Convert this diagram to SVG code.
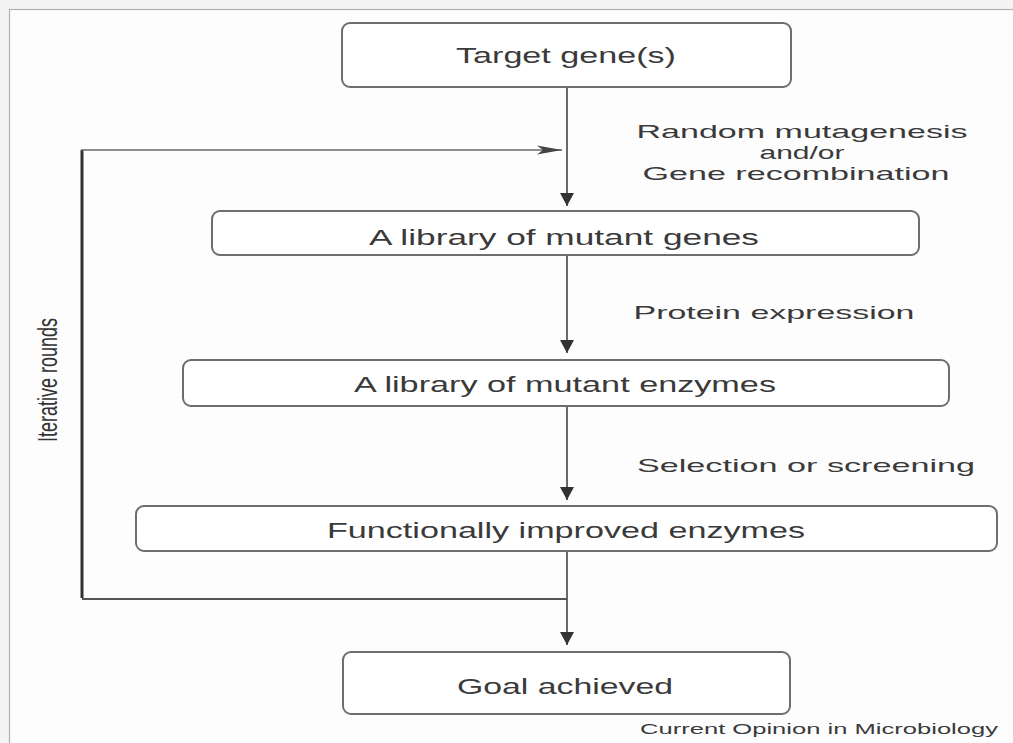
<svg xmlns="http://www.w3.org/2000/svg" width="1013" height="743" viewBox="0 0 1013 743">
  <defs>
    <style>
      .box { fill: #ffffff; stroke: #6e6e6e; stroke-width: 2; }
      .t { font-family: "Liberation Sans", Arial, sans-serif; font-size: 22px; fill: #3a3a3a; text-anchor: middle; }
      .lbl { font-family: "Liberation Sans", Arial, sans-serif; font-size: 19px; fill: #3a3a3a; text-anchor: middle; }
      .flow { stroke: #444; stroke-width: 1.6; fill: none; }
    </style>
    <marker id="ah" markerUnits="userSpaceOnUse" markerWidth="16" markerHeight="16" viewBox="0 -8 14 16" refX="13" refY="0" orient="auto">
      <path d="M0,-7 L13,0 L0,7 z" fill="#333"/>
    </marker>
    <marker id="ah2" markerUnits="userSpaceOnUse" markerWidth="28" markerHeight="12" viewBox="0 -6 26 12" refX="25" refY="0" orient="auto">
      <path d="M0,-4.5 L25,0 L0,4.5 L6,0 z" fill="#444"/>
    </marker>
  </defs>

  <rect x="0" y="0" width="1013" height="743" fill="#f4f4f4"/>
  <rect x="9.5" y="9.5" width="1010" height="740" fill="#fdfdfd" stroke="#b0b0b0" stroke-width="1.2"/>

  <g id="connectors">
    <line class="flow" x1="567" y1="88" x2="567" y2="206" marker-end="url(#ah)"/>
    <line class="flow" x1="567" y1="256" x2="567" y2="353" marker-end="url(#ah)"/>
    <line class="flow" x1="567" y1="407" x2="567" y2="500" marker-end="url(#ah)"/>
    <line class="flow" x1="567" y1="552" x2="567" y2="645" marker-end="url(#ah)"/>
    <path d="M82,599 L567,599" stroke="#555" stroke-width="2" fill="none"/>
    <path d="M82,598 L82,150" stroke="#333" stroke-width="3" fill="none"/>
    <line x1="81" y1="150" x2="562" y2="150" stroke="#666" stroke-width="1.5" marker-end="url(#ah2)"/>
  </g>

  <g id="n-target">
    <rect class="box" x="342" y="23" width="449" height="64" rx="8" ry="8"/>
    <text class="t" x="566" y="63" textLength="220" lengthAdjust="spacingAndGlyphs">Target gene(s)</text>
  </g>
  <g id="n-genes">
    <rect class="box" x="212" y="211" width="707" height="44" rx="8" ry="8"/>
    <text class="t" x="564" y="245" textLength="390" lengthAdjust="spacingAndGlyphs">A library of mutant genes</text>
  </g>
  <g id="n-enzymes">
    <rect class="box" x="183" y="360" width="766" height="46" rx="8" ry="8"/>
    <text class="t" x="565" y="392" textLength="422" lengthAdjust="spacingAndGlyphs">A library of mutant enzymes</text>
  </g>
  <g id="n-improved">
    <rect class="box" x="136" y="506" width="861" height="45" rx="8" ry="8"/>
    <text class="t" x="566" y="538" textLength="478" lengthAdjust="spacingAndGlyphs">Functionally improved enzymes</text>
  </g>
  <g id="n-goal">
    <rect class="box" x="343" y="652" width="447" height="62" rx="8" ry="8"/>
    <text class="t" x="565" y="694" textLength="216" lengthAdjust="spacingAndGlyphs">Goal achieved</text>
  </g>

  <g id="labels">
    <text class="lbl" x="802" y="138" textLength="331" lengthAdjust="spacingAndGlyphs">Random mutagenesis</text>
    <text class="lbl" x="802" y="159" textLength="85" lengthAdjust="spacingAndGlyphs">and/or</text>
    <text class="lbl" x="796" y="180" textLength="307" lengthAdjust="spacingAndGlyphs">Gene recombination</text>
    <text class="lbl" x="774" y="319" textLength="281" lengthAdjust="spacingAndGlyphs">Protein expression</text>
    <text class="lbl" x="806" y="472" textLength="338" lengthAdjust="spacingAndGlyphs">Selection or screening</text>
    <text transform="translate(57,380) scale(1.5,1) rotate(-90)" font-family="'Liberation Sans', Arial, sans-serif" font-size="18" fill="#333" text-anchor="middle">Iterative rounds</text>
    <text x="998" y="734" font-family="'Liberation Sans', Arial, sans-serif" font-size="14" fill="#3a3a3a" text-anchor="end" textLength="358" lengthAdjust="spacingAndGlyphs">Current Opinion in Microbiology</text>
  </g>
</svg>
